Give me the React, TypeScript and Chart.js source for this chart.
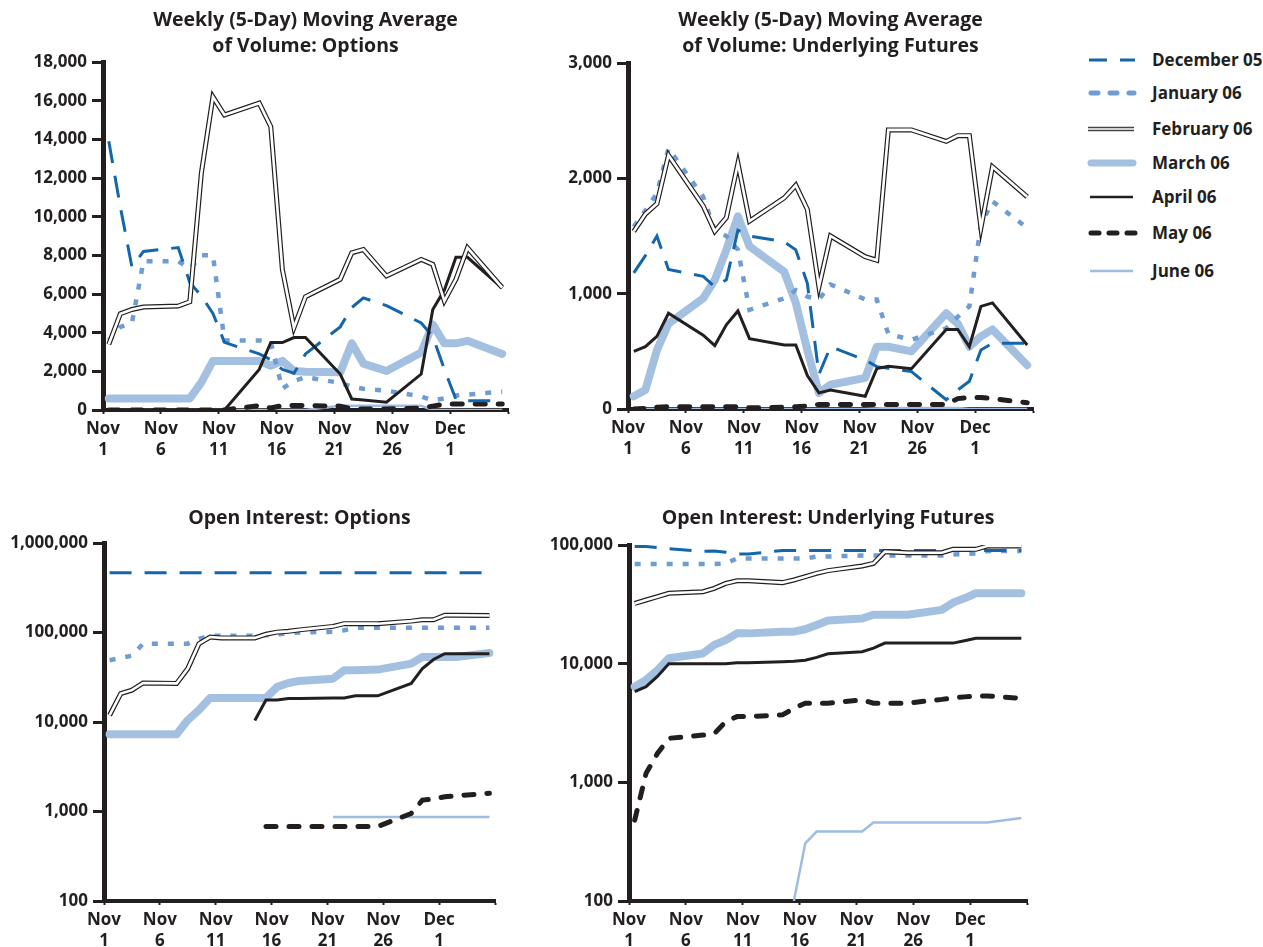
import React, { useEffect, useRef } from 'react';
import { Chart, registerables } from 'chart.js';

Chart.register(...registerables);

// ---------- DATA ----------
// Trading days (calendar offset from Nov 1, plotted mid-day)
const DAYS = [0.5, 1.5, 2.5, 3.5, 6.5, 7.5, 8.5, 9.5, 10.5, 13.5, 14.5, 15.5, 16.5, 17.5, 20.5, 21.5, 22.5, 24.5, 27.5, 28.5, 29.5, 30.5, 31.5, 34.5];
const TICK_DAYS = [0, 5, 10, 15, 20, 25, 30, 35];
const TICK_LABELS: (string[] | string)[] = [['Nov', '1'], ['Nov', '6'], ['Nov', '11'], ['Nov', '16'], ['Nov', '21'], ['Nov', '26'], ['Dec', '1'], ''];
const SERIES_NAMES = ['December 05', 'January 06', 'February 06', 'March 06', 'April 06', 'May 06', 'June 06'];

const OPT_VOL_TICKS = [0, 2000, 4000, 6000, 8000, 10000, 12000, 14000, 16000, 18000];
const FUT_VOL_TICKS = [0, 1000, 2000, 3000];
const OPT_OI_TICKS = [100, 1000, 10000, 100000, 1000000];
const FUT_OI_TICKS = [100, 1000, 10000, 100000];

// Weekly moving average of volume: options
const OV_DEC = [13900, 10500, 7400, 8200, 8400, 6600, 5900, 5000, 3500, 2900, 2600, 2100, 1900, 2900, 4300, 5300, 5800, 5400, 4500, 3800, 2100, 550, 480, 480];
const OV_JAN = [3600, 4300, 4500, 7700, 7700, 7300, 8000, 8000, 3600, 3600, 3500, 1100, 1500, 1700, 1400, 1200, 1100, 1000, 700, 500, 600, 750, 800, 950];
const OV_FEB = [3400, 4980, 5200, 5330, 5380, 5600, 12250, 16200, 15260, 15870, 14660, 7270, 4260, 5860, 6760, 8130, 8300, 6930, 7790, 7530, 5640, 6760, 8390, 6330];
const OV_MAR = [600, 600, 600, 600, 600, 600, 1430, 2540, 2540, 2540, 2290, 2540, 2020, 1980, 1950, 3450, 2400, 2020, 2970, 4430, 3450, 3450, 3580, 2900];
const OV_APR = [0, 0, 0, 0, 0, 0, 0, 0, 0, 2100, 3490, 3490, 3750, 3750, 1860, 570, 520, 400, 1860, 5200, 6200, 7900, 7900, 6300];
const OV_MAY = [0, 0, 0, 0, 0, 0, 0, 0, 0, 230, 100, 230, 230, 230, 200, 50, 50, 50, 100, 200, 310, 310, 310, 310];
const OV_JUN = [0, 0, 0, 0, 0, 0, 0, 0, 0, 0, 0, 0, 0, 0, 220, 220, 220, 220, 220, 0, 0, 0, 0, 0];

// Weekly moving average of volume: underlying futures
const FV_DEC = [1180, 1330, 1500, 1210, 1150, 1060, 1120, 1550, 1500, 1450, 1380, 1090, 300, 540, 425, 367, 353, 324, 80, 165, 240, 512, 570, 570];
const FV_JAN = [1580, 1720, 1870, 2260, 1840, 1550, 1500, 1380, 860, 960, 1030, 975, 950, 1080, 950, 950, 650, 600, 700, 800, 890, 1600, 1800, 1570];
const FV_FEB = [1540, 1690, 1780, 2200, 1760, 1540, 1660, 2130, 1630, 1830, 1940, 1730, 1060, 1500, 1320, 1290, 2420, 2420, 2320, 2370, 2370, 1570, 2100, 1840];
const FV_MAR = [110, 165, 510, 740, 960, 1120, 1380, 1670, 1410, 1190, 920, 510, 140, 210, 270, 540, 540, 500, 830, 740, 540, 630, 690, 380];
const FV_APR = [500, 540, 630, 830, 640, 550, 730, 850, 610, 555, 555, 290, 140, 165, 110, 350, 370, 350, 690, 690, 540, 890, 920, 555];
const FV_MAY = [0, 5, 15, 20, 20, 20, 20, 20, 10, 15, 20, 25, 40, 40, 40, 40, 40, 40, 40, 90, 100, 100, 90, 55];
const FV_JUN = [0, 0, 0, 0, 0, 0, 0, 0, 0, 0, 0, 0, 0, 0, 0, 5, 8, 8, 8, 8, 0, 0, 0, 0];

// Open interest: options (null = contract not yet traded)
const OO_DEC = [465000, 465000, 465000, 465000, 465000, 465000, 465000, 465000, 465000, 465000, 465000, 465000, 465000, 465000, 465000, 465000, 465000, 465000, 465000, 465000, 465000, 465000, 465000, 465000];
const OO_JAN = [49000, 52000, 55000, 75000, 75000, 75000, 85000, 92000, 92000, 92000, 93000, 95000, 98000, 100000, 102000, 106000, 113000, 113000, 113000, 113000, 113000, 113000, 113000, 113000];
const OO_FEB = [11900, 20800, 22700, 27300, 27000, 39500, 75000, 89000, 87000, 87000, 95600, 101000, 103000, 107000, 117000, 125500, 125500, 125500, 134000, 139000, 139000, 156000, 156000, 155000];
const OO_MAR = [7300, 7300, 7300, 7300, 7300, 10500, 13600, 18600, 18600, 18600, 18600, 24700, 27300, 28800, 30500, 37900, 37900, 38500, 44900, 53200, 53200, 53200, 53200, 59000];
const OO_APR = [null, null, null, null, null, null, null, null, null, 10400, 17600, 17600, 18300, 18300, 18600, 18600, 19600, 19600, 27000, 39500, 49900, 58000, 58000, 58000];
const OO_MAY = [null, null, null, null, null, null, null, null, null, null, 680, 680, 680, 680, 680, 680, 680, 680, 950, 1340, 1380, 1460, 1500, 1600];
const OO_JUN = [null, null, null, null, null, null, null, null, null, null, null, null, null, null, 870, 870, 870, 870, 870, 870, 870, 870, 870, 870];

// Open interest: underlying futures
const FO_DEC = [97000, 97000, 95000, 93000, 88500, 89000, 87000, 84000, 84000, 90000, 90000, 90000, 90000, 90000, 90000, 90000, 90000, 90000, 90000, 90000, 90000, 90000, 90000, 90000];
const FO_JAN = [69000, 69000, 69000, 69000, 69000, 69000, 70000, 77000, 77000, 77000, 77000, 77000, 80000, 80000, 81500, 81500, 81500, 81500, 81500, 83000, 84000, 85000, 89000, 89000];
const FO_FEB = [32200, 34400, 36700, 39200, 40400, 43100, 47500, 50000, 50000, 48200, 50700, 54100, 57700, 60800, 66500, 70000, 87900, 86100, 86100, 91900, 91900, 91900, 98000, 98000];
const FO_MAR = [6400, 7300, 8800, 11100, 12200, 14400, 15800, 18000, 18000, 18600, 18600, 19500, 21200, 23100, 24000, 25800, 25800, 25800, 28400, 32700, 35500, 39200, 39200, 39200];
const FO_APR = [5800, 6400, 7800, 10000, 10000, 10000, 10000, 10200, 10200, 10400, 10500, 10700, 11300, 12100, 12600, 13500, 14900, 14900, 14900, 14900, 15600, 16400, 16400, 16400];
const FO_MAY = [480, 1190, 1750, 2350, 2500, 2580, 3240, 3580, 3580, 3700, 4200, 4650, 4650, 4650, 4950, 4650, 4650, 4650, 5000, 5150, 5250, 5350, 5350, 5100];
const FO_JUN = [null, null, null, null, null, null, null, null, null, null, 100, 306, 385, 385, 385, 458, 458, 458, 458, 458, 458, 458, 458, 500];

// ---------- STYLE ----------
const INK = '#231f20';
const FONT = '"Open Sans", Lato, "DejaVu Sans", sans-serif';
const C_DEC = '#1466aa';
const C_JAN = '#6f9dd3';
const C_MAR = '#a4c0e1';
const C_JUN = '#9ebde3';

type Vals = (number | null)[];

function pts(vals: Vals) {
  const out: { x: number; y: number }[] = [];
  DAYS.forEach((d, i) => {
    const v = vals[i];
    if (v !== null && v !== undefined) out.push({ x: d, y: v });
  });
  return out;
}

function buildDatasets(s: Vals[]) {
  const [dec, jan, feb, mar, apr, may, jun] = s;
  const base = { pointRadius: 0, tension: 0, fill: false };
  return [
    { ...base, label: SERIES_NAMES[2] + ' inner', data: pts(feb), borderColor: '#ffffff', borderWidth: 2.6, order: 1 },
    { ...base, label: SERIES_NAMES[2], data: pts(feb), borderColor: INK, borderWidth: 5, order: 2 },
    { ...base, label: SERIES_NAMES[4], data: pts(apr), borderColor: INK, borderWidth: 3, order: 3 },
    { ...base, label: SERIES_NAMES[0], data: pts(dec), borderColor: C_DEC, borderWidth: 3, borderDash: [22, 13], order: 4 },
    { ...base, label: SERIES_NAMES[1], data: pts(jan), borderColor: C_JAN, borderWidth: 4.5, borderDash: [6, 10], order: 5 },
    { ...base, label: SERIES_NAMES[5], data: pts(may), borderColor: INK, borderWidth: 5, borderDash: [10, 13], borderCapStyle: 'round', order: 6 },
    { ...base, label: SERIES_NAMES[6], data: pts(jun), borderColor: C_JUN, borderWidth: 2.5, order: 7 },
    { ...base, label: SERIES_NAMES[3], data: pts(mar), borderColor: C_MAR, borderWidth: 8, borderCapStyle: 'round', borderJoinStyle: 'round', order: 8 },
  ];
}

interface PanelSpec {
  left: number; top: number; w: number; h: number;
  yW: number; title: string | string[]; tTop: number; tBottom: number;
  log: boolean; yMin: number; yMax: number; yTicks: number[];
  series: Vals[];
}

const PANELS: PanelSpec[] = [
  {
    left: 0, top: 0, w: 512, h: 460, yW: 103,
    title: ['Weekly (5-Day) Moving Average', 'of Volume: Options'], tTop: 7, tBottom: 3,
    log: false, yMin: 0, yMax: 18000, yTicks: OPT_VOL_TICKS,
    series: [OV_DEC, OV_JAN, OV_FEB, OV_MAR, OV_APR, OV_MAY, OV_JUN],
  },
  {
    left: 520, top: 0, w: 517, h: 459, yW: 108,
    title: ['Weekly (5-Day) Moving Average', 'of Volume: Underlying Futures'], tTop: 7, tBottom: 4,
    log: false, yMin: 0, yMax: 3000, yTicks: FUT_VOL_TICKS,
    series: [FV_DEC, FV_JAN, FV_FEB, FV_MAR, FV_APR, FV_MAY, FV_JUN],
  },
  {
    left: 0, top: 480, w: 499, h: 471, yW: 104,
    title: 'Open Interest: Options', tTop: 25, tBottom: 12,
    log: true, yMin: 100, yMax: 1000000, yTicks: OPT_OI_TICKS,
    series: [OO_DEC, OO_JAN, OO_FEB, OO_MAR, OO_APR, OO_MAY, OO_JUN],
  },
  {
    left: 520, top: 480, w: 511, h: 471, yW: 109,
    title: 'Open Interest: Underlying Futures', tTop: 25, tBottom: 14,
    log: true, yMin: 100, yMax: 100000, yTicks: FUT_OI_TICKS,
    series: [FO_DEC, FO_JAN, FO_FEB, FO_MAR, FO_APR, FO_MAY, FO_JUN],
  },
];

function makeConfig(p: PanelSpec): any {
  return {
    type: 'line',
    data: { datasets: buildDatasets(p.series) },
    options: {
      animation: false,
      responsive: false,
      devicePixelRatio: 1,
      layout: { padding: { left: 0, right: 4, top: 0, bottom: 0 } },
      plugins: {
        legend: { display: false },
        tooltip: { enabled: false },
        title: {
          display: true,
          text: p.title,
          fullSize: false,
          color: INK,
          font: { family: FONT, size: 19.5, weight: 'bold', lineHeight: 26 / 19.5 },
          padding: { top: p.tTop, bottom: p.tBottom },
        },
      },
      scales: {
        x: {
          type: 'linear',
          min: 0,
          max: 35,
          afterBuildTicks: (s: any) => { s.ticks = TICK_DAYS.map((v) => ({ value: v })); },
          afterFit: (s: any) => { s.height = 50; },
          ticks: {
            autoSkip: false,
            maxRotation: 0,
            minRotation: 0,
            padding: 4,
            color: INK,
            font: { family: FONT, size: 17, weight: 'bold', lineHeight: 1.27 },
            callback: (v: number) => {
              const i = TICK_DAYS.indexOf(v);
              return i >= 0 ? TICK_LABELS[i] : '';
            },
          },
          grid: { display: true, drawOnChartArea: false, drawTicks: true, tickLength: 4, tickWidth: 2, tickColor: INK },
          border: { display: true, width: 4, color: INK },
        },
        y: {
          type: p.log ? 'logarithmic' : 'linear',
          min: p.yMin,
          max: p.yMax,
          afterBuildTicks: (s: any) => { s.ticks = p.yTicks.map((v) => ({ value: v })); },
          afterFit: (s: any) => { s.width = p.yW; },
          ticks: {
            autoSkip: false,
            padding: 5,
            color: INK,
            font: { family: FONT, size: 17, weight: 'bold' },
            callback: (v: number) => Number(v).toLocaleString('en-US'),
          },
          grid: { display: true, drawOnChartArea: false, drawTicks: true, tickLength: 11, tickWidth: 3, tickColor: INK },
          border: { display: true, width: 5, color: INK },
        },
      },
    },
  };
}

function Panel({ spec }: { spec: PanelSpec }) {
  const ref = useRef<HTMLCanvasElement | null>(null);
  useEffect(() => {
    if (!ref.current) return;
    const chart = new Chart(ref.current, makeConfig(spec));
    return () => chart.destroy();
  }, [spec]);
  return (
    <canvas
      ref={ref}
      width={spec.w}
      height={spec.h}
      style={{ position: 'absolute', left: spec.left, top: spec.top, width: spec.w, height: spec.h, display: 'block' }}
    />
  );
}

// Legend swatches
const LEGEND_ROWS = [
  { y: 60, kind: 'dec' },
  { y: 93, kind: 'jan' },
  { y: 129, kind: 'feb' },
  { y: 163, kind: 'mar' },
  { y: 197, kind: 'apr' },
  { y: 233, kind: 'may' },
  { y: 271, kind: 'jun' },
];

function Swatch({ kind }: { kind: string }) {
  const line = (props: any) => <line x1={props.x1 ?? 3} x2={props.x2 ?? 49} y1={props.y ?? 10} y2={props.y ?? 10} {...props.rest} />;
  let el: any = null;
  if (kind === 'dec') el = line({ rest: { stroke: C_DEC, strokeWidth: 3, strokeDasharray: '18 13' } });
  if (kind === 'jan') el = line({ x1: 5, x2: 48, rest: { stroke: C_JAN, strokeWidth: 5, strokeDasharray: '7 12', strokeLinecap: 'round' } });
  if (kind === 'feb') el = (
    <g>
      {line({ x1: 2, x2: 48, y: 8.5, rest: { stroke: '#444', strokeWidth: 1.4 } })}
      {line({ x1: 2, x2: 48, y: 11.5, rest: { stroke: '#444', strokeWidth: 1.4 } })}
    </g>
  );
  if (kind === 'mar') el = line({ x1: 5, x2: 47, rest: { stroke: C_MAR, strokeWidth: 7, strokeLinecap: 'round' } });
  if (kind === 'apr') el = line({ x1: 4, x2: 47, rest: { stroke: INK, strokeWidth: 2.5 } });
  if (kind === 'may') el = line({ x1: 5, x2: 50, rest: { stroke: INK, strokeWidth: 5, strokeDasharray: '8 10', strokeLinecap: 'round' } });
  if (kind === 'jun') el = line({ x1: 4, x2: 47, rest: { stroke: C_JUN, strokeWidth: 2.5 } });
  return (
    <svg width={54} height={20} style={{ position: 'absolute', left: 0, top: 0 }}>
      {el}
    </svg>
  );
}

export default function App() {
  return (
    <div style={{ position: 'absolute', left: 0, top: 0, width: 1263, height: 947, background: '#ffffff', overflow: 'hidden' }}>
      {PANELS.map((p, i) => (
        <Panel key={i} spec={p} />
      ))}
      {LEGEND_ROWS.map((r, i) => (
        <div key={r.kind} style={{ position: 'absolute', left: 1086, top: r.y - 10, width: 177, height: 20 }}>
          <Swatch kind={r.kind} />
          <span
            style={{
              position: 'absolute', left: 66, top: 0, lineHeight: '20px', whiteSpace: 'nowrap',
              fontFamily: FONT, fontWeight: 'bold', fontSize: 17, color: INK,
            }}
          >
            {SERIES_NAMES[i]}
          </span>
        </div>
      ))}
    </div>
  );
}
